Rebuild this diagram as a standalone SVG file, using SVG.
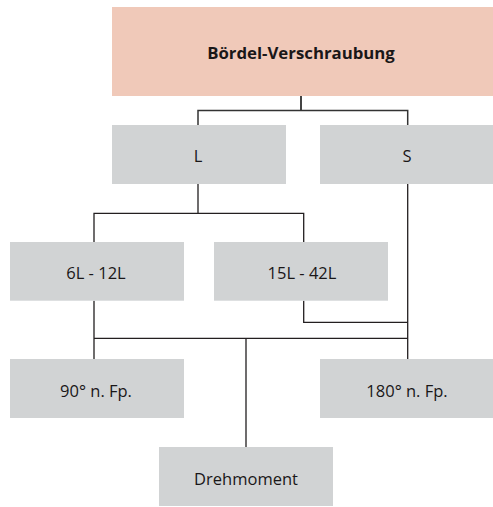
<svg xmlns="http://www.w3.org/2000/svg" width="493" height="507" viewBox="0 0 493 507">
<style>
.box{fill:#d1d3d4}
.top{fill:#f0c9b9}
.t{font-family:"Open Sans","Liberation Sans",sans-serif;font-size:16.5px;fill:#1a1718;text-anchor:middle}
.b{font-weight:bold;font-size:16.8px}
.c{fill:none;stroke:#231f20;stroke-width:1.3}
</style>
<rect width="493" height="507" fill="#ffffff"/>
<g id="connectors">
<path class="c" d="M301,96 V110.5" style="stroke:#444;stroke-width:2"/>
<path class="c" d="M198,125 V110.5 H407.7 V125" style="stroke:#333;stroke-width:1.5"/>
<path class="c" d="M198,184 V213.3 M94,242 V213.3 H303.7 V242"/>
<path class="c" d="M407.7,184 V359"/>
<path class="c" d="M303.7,300.7 V322.3 H407.7"/>
<path class="c" d="M94,300.7 V359 M94,338.3 H407.7 M246,338.3 V447"/>
</g>
<g id="n-root"><rect class="top" x="112" y="7" width="381" height="89"/><text class="t b" x="301" y="59">Bördel-Verschraubung</text></g>
<g id="n-L"><rect class="box" x="112" y="125" width="174" height="59"/><text class="t" x="198" y="161.5">L</text></g>
<g id="n-S"><rect class="box" x="320" y="125" width="173" height="59"/><text class="t" x="407" y="161.5">S</text></g>
<g id="n-6L"><rect class="box" x="10" y="242" width="174" height="58.7"/><text class="t" x="96" y="279">6L - 12L</text></g>
<g id="n-15L"><rect class="box" x="214" y="242" width="174" height="58.7"/><text class="t" x="302" y="279">15L - 42L</text></g>
<g id="n-90"><rect class="box" x="10" y="359" width="174" height="59"/><text class="t" x="96" y="396.5">90° n. Fp.</text></g>
<g id="n-180"><rect class="box" x="320" y="359" width="173" height="59"/><text class="t" x="407" y="396.5">180° n. Fp.</text></g>
<g id="n-dreh"><rect class="box" x="159" y="447" width="174" height="59"/><text class="t" x="246" y="485">Drehmoment</text></g>
</svg>
